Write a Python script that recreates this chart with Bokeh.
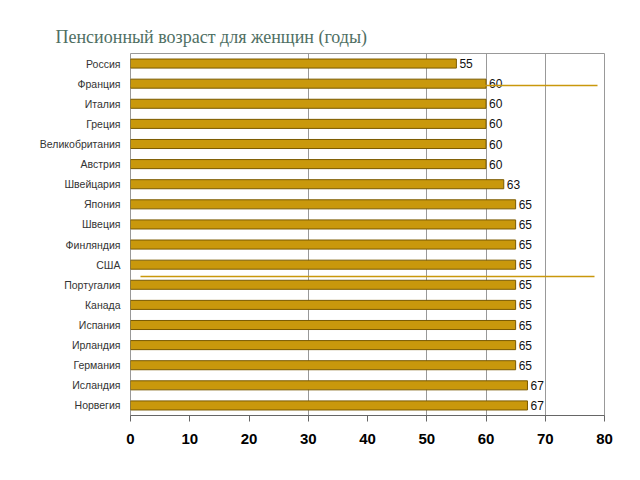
from bokeh.plotting import figure
from bokeh.models import FixedTicker, ColumnDataSource, PolyAnnotation, LabelSet
from bokeh.core.properties import value
from bokeh.embed import file_html
from bokeh.resources import INLINE

countries = ["Россия", "Франция", "Италия", "Греция", "Великобритания", "Австрия",
             "Швейцария", "Япония", "Швеция", "Финляндия", "США", "Португалия",
             "Канада", "Испания", "Ирландия", "Германия", "Исландия", "Норвегия"]
ages = [55, 60, 60, 60, 60, 60, 63, 65, 65, 65, 65, 65, 65, 65, 65, 65, 67, 67]
x_ticks = [0, 10, 20, 30, 40, 50, 60, 70, 80]
grid_ticks = [30, 50, 60, 70]
title_text = "Пенсионный возраст для женщин (годы)"

src = ColumnDataSource(dict(country=countries, age=ages, lbl=[str(a) for a in ages]))

p = figure(width=640, height=480, output_backend="svg", toolbar_location=None,
           y_range=list(reversed(countries)), x_range=(0, 80),
           min_border_left=130, min_border_right=36, min_border_top=53,
           min_border_bottom=65)
p.y_range.range_padding = 0

p.title.text = title_text
p.title.text_font = "Liberation Serif"
p.title.text_font_size = "18px"
p.title.text_font_style = "normal"
p.title.text_color = "#4f6f63"
p.title.align = "left"
p.title.offset = -75
p.title.standoff = 14

p.hbar(y="country", right="age", left=0, height=0.45, source=src,
       fill_color="#C9980C", line_color="#7a5a00", line_width=1)

labels = LabelSet(x="age", y="country", text="lbl", source=src, x_offset=3,
                  text_baseline="middle", text_font=value("Liberation Sans"),
                  text_font_size="12px", text_color="#111111")
p.add_layout(labels)

p.xaxis.ticker = FixedTicker(ticks=x_ticks)
p.xaxis.major_label_text_font = "Liberation Sans"
p.xaxis.major_label_text_font_size = "15px"
p.xaxis.major_label_text_font_style = "bold"
p.xaxis.major_label_text_color = "#000000"
p.xaxis.major_label_standoff = 12
p.xaxis.axis_line_color = "#666666"
p.xaxis.major_tick_line_color = "#666666"
p.xaxis.major_tick_in = 0
p.xaxis.major_tick_out = 6
p.xaxis.minor_tick_line_color = None

p.yaxis.major_label_text_font = "Liberation Sans"
p.yaxis.major_label_text_font_size = "10.5px"
p.yaxis.major_label_text_color = "#333333"
p.yaxis.major_label_standoff = 4
p.yaxis.axis_line_color = None
p.yaxis.major_tick_line_color = None
p.yaxis.minor_tick_line_color = None

p.xgrid.ticker = FixedTicker(ticks=grid_ticks)
p.xgrid.grid_line_color = "#999999"
p.ygrid.grid_line_color = None
p.outline_line_color = "#999999"

# decorative slide lines (screen units: from frame left / frame bottom)
deco1 = PolyAnnotation(xs=[0, 467], ys=[330, 330],
                       xs_units="screen", ys_units="screen",
                       fill_alpha=0, line_color="#C9980C", line_alpha=1.0,
                       line_width=1.5)
deco2 = PolyAnnotation(xs=[10, 464], ys=[139, 139],
                       xs_units="screen", ys_units="screen",
                       fill_alpha=0, line_color="#C9980C", line_alpha=1.0,
                       line_width=1.5)
p.add_layout(deco1)
p.add_layout(deco2)

open("out.html", "w").write(file_html(p, INLINE))
